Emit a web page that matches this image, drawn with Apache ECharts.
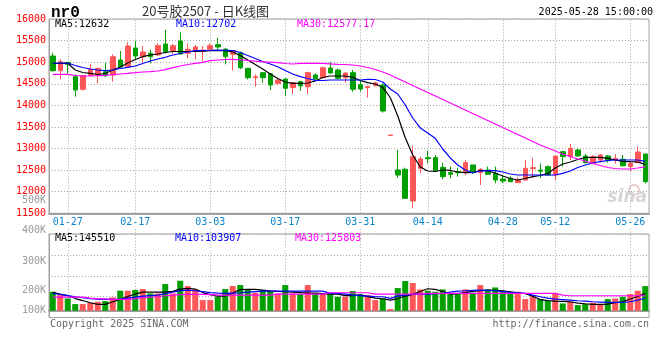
<!DOCTYPE html>
<html><head><meta charset="utf-8">
<script src="https://cdn.jsdelivr.net/npm/echarts@6/dist/echarts.min.js"></script>
<style>html,body{margin:0;padding:0;background:#fff}#c{width:660px;height:360px}</style>
</head><body><div id="c"></div>
<script>
const dates = ['01-23','01-24','01-27','02-05','02-06','02-07','02-10','02-11','02-12','02-13',
'02-14','02-17','02-18','02-19','02-20','02-21','02-24','02-25','02-26','02-27',
'02-28','03-03','03-04','03-05','03-06','03-07','03-10','03-11','03-12','03-13',
'03-14','03-17','03-18','03-19','03-20','03-21','03-24','03-25','03-26','03-27',
'03-28','03-31','04-01','04-02','04-03','04-07','04-08','04-09','04-10','04-11',
'04-14','04-15','04-16','04-17','04-18','04-21','04-22','04-23','04-24','04-25',
'04-28','04-29','04-30','05-06','05-07','05-08','05-09','05-12','05-13','05-14',
'05-15','05-16','05-19','05-20','05-21','05-22','05-23','05-26','05-27','05-28'];
const open = [15143,14803,14995,14664,14372,14696,14726,14780,14703,15050,
14895,15328,15127,15205,15166,15421,15266,15490,15206,15266,
15250,15298,15405,15305,15182,15220,14858,14641,14757,14733,
14510,14610,14410,14548,14432,14703,14641,14865,14819,14641,
14757,14478,14410,14456,14471,13300,12503,12519,11785,12542,
12789,12789,12565,12441,12465,12441,12619,12441,12503,12426,
12294,12310,12210,12271,12534,12503,12580,12387,12927,12811,
12966,12827,12658,12734,12827,12734,12750,12580,12673,12873];
const close = [14803,15011,14950,14356,14687,14835,14858,14687,15127,14895,
15375,15143,15236,15127,15382,15243,15382,15189,15298,15352,
15280,15382,15352,15127,15266,14872,14641,14664,14641,14472,
14587,14395,14525,14449,14757,14610,14872,14749,14626,14749,
14372,14379,14441,14518,13869,13313,12387,11847,12811,12758,
12765,12487,12348,12403,12441,12672,12441,12519,12403,12271,
12248,12233,12271,12542,12557,12473,12387,12827,12811,13006,
12827,12673,12811,12850,12719,12773,12600,12658,12919,12232];
const low = [14780,14610,14733,14200,14340,14670,14511,14660,14548,14880,
14890,15050,14988,14973,15150,15200,15189,15180,15090,15067,
15011,15280,15298,14950,14803,14835,14604,14432,14525,14356,
14472,14217,14263,14333,14263,14600,14630,14740,14600,14525,
14317,14317,14178,14441,13830,13300,12325,11840,11616,12426,
12658,12480,12287,12310,12350,12387,12410,12156,12400,12195,
12195,12220,12200,12260,12310,12318,12380,12271,12580,12734,
12820,12660,12650,12673,12673,12650,12590,12465,12660,12190];
const high = [15220,15067,15000,14719,14703,14958,14870,14988,15182,15259,
15460,15497,15375,15297,15437,15750,15421,15692,15437,15398,
15375,15437,15567,15310,15270,15243,14860,14720,14760,14740,
14633,14620,14548,14571,14780,14742,14900,15011,14850,14765,
14819,14587,14445,14548,14510,13313,12966,12557,13058,12811,
12950,12850,12672,12580,12557,12734,12620,12542,12580,12580,
12387,12356,12333,12734,12789,12650,12610,12830,12930,13105,
13010,12873,12850,12873,12850,12873,12850,12696,13050,12880];
const ma5 = [14974,14974,14974,14819,14761,14742,14715,14738,14819,14888,
14981,15062,15127,15166,15189,15224,15247,15247,15247,15247,
15254,15266,15266,15266,15236,15155,15050,14946,14842,14726,
14622,14541,14511,14511,14518,14564,14645,14680,14680,14680,
14650,14576,14525,14495,14414,14182,13753,13250,12850,12572,
12480,12468,12503,12492,12456,12440,12445,12492,12480,12433,
12364,12306,12271,12306,12348,12375,12422,12549,12642,12688,
12746,12792,12797,12797,12774,12734,12704,12695,12688,12632];
const ma10 = [14969,14981,14981,14923,14877,14842,14819,14803,14819,14854,
14881,14911,14969,15027,15074,15113,15166,15201,15236,15266,
15270,15275,15282,15275,15266,15224,15155,15085,15016,14958,
14895,14807,14726,14664,14622,14580,14576,14587,14587,14587,
14587,14587,14603,14599,14541,14379,14263,14008,13707,13476,
13360,13237,12989,12781,12619,12503,12440,12480,12487,12487,
12456,12410,12387,12387,12387,12387,12387,12387,12426,12480,
12561,12619,12665,12695,12723,12734,12734,12734,12734,12702];
const ma30 = [14719,14719,14719,14691,14680,14680,14687,14696,14710,14726,
14742,14756,14772,14779,14796,14826,14872,14911,14946,14974,
14997,15034,15050,15062,15067,15055,15039,15023,15009,15000,
14988,14969,14958,14974,14974,14974,14974,14962,14951,14946,
14935,14911,14877,14830,14772,14703,14622,14541,14460,14379,
14298,14217,14136,14055,13973,13892,13811,13730,13649,13568,
13487,13406,13325,13244,13163,13082,13012,12943,12873,12815,
12758,12711,12653,12607,12561,12538,12526,12526,12549,12577.17];
const volume = [157700,130300,102100,55600,55600,66400,74700,80500,110400,166000,
166000,171800,180100,143600,143600,221600,143600,249000,205000,176800,
88800,88800,116200,180100,205000,213300,180100,149400,171800,163500,
143600,213300,143600,138600,213300,143600,143600,138600,116200,116200,
163500,138600,130300,88800,102100,14100,188400,246500,229900,176800,
166000,157700,176800,143600,143600,176800,149400,213300,176800,193400,
166000,157700,157700,97100,116200,97100,80500,143600,60600,74700,
47300,55600,66400,55600,97100,102100,116200,138600,166000,205000];
const vma5 = [152700,138600,126200,101300,84700,66400,53100,53100,74700,94600,
117900,138600,155200,155200,155200,155200,161000,180100,185900,180100,
151100,134500,122000,122000,146900,176000,177600,177600,171800,166000,
161000,157700,155200,151100,146900,146900,142800,138600,138600,126200,
126200,130300,117900,105400,99600,88800,101300,122000,136100,159400,
182600,177600,159400,138600,142800,151100,161000,166000,171800,169300,
166000,157700,149400,142800,119500,93000,84700,80500,78000,74700,
63900,58100,53100,53100,55600,66400,74700,97100,117900,145510];
const vma10 = [144400,136100,126200,116200,107900,99600,97100,94600,94600,94600,
105400,113700,122000,126200,130300,142800,155200,167700,171800,166000,
159400,151100,146900,144400,146900,149400,155200,159400,163500,163500,
163500,163500,163500,163500,163500,163500,163500,144400,144400,138600,
130300,126200,122000,117900,116200,102900,122000,130300,136100,138600,
138600,141100,144400,155200,163500,166000,169300,171800,169300,166000,
159400,152700,149400,144400,130300,116200,105400,97100,93000,88800,
83000,80500,74700,72200,69700,69700,69700,74700,88800,103907];
const vma30 = [113700,113700,113700,113700,113700,105400,99600,97900,94600,94600,
94600,101300,109600,113700,116200,124500,130300,134500,136100,136100,
136100,134500,130300,130300,130300,130300,130300,130300,130300,130300,
138600,138600,138600,138600,138600,138600,138600,149400,149400,149400,
149400,149400,149400,138600,138600,138600,138600,138600,138600,138600,
144400,144400,144400,144400,144400,144400,144400,144400,144400,144400,
144400,144400,144400,144400,144400,144400,144400,144400,130300,124500,
124500,124500,124500,124500,124500,124500,124500,124500,124500,125803];
const xLabelDates = ['01-27','02-17','03-03','03-17','03-31','04-14','04-28','05-12','05-26'];
const volTickLabels = ['500K','400K','300K','200K','100K'];
const volTickY = [200.7,230.7,261,290,310];

const RED = '#ff5757', GREEN = '#00a000';
const MONO = 'DejaVu Sans Mono';
const grid0 = {left:49, top:19, width:600, height:194.3};
const grid1 = {left:49, top:234, width:600, height:83.5};
const dotted = {color:'#a8a8a8', type:[1,2], width:1};
const pick = (i, v) => xLabelDates.indexOf(v) >= 0;

const chart = echarts.init(document.getElementById('c'), null, {renderer:'canvas'});
const txt = (text, x, y, fill, font, align, va) => ({type:'text', silent:true, x, y, style:{text, fill, font, align:align||'left', verticalAlign:va||'middle'}});

const graphics = [
  txt('nr0', 51, 13, '#000', 'bold 16px "Liberation Mono"'),
  txt('20号胶2507 - 日K线图', 142, 11, '#333', '13px "Noto Sans CJK SC"'),
  txt('2025-05-28 15:00:00', 653, 12, '#000', '10px "' + MONO + '"', 'right'),
  txt('MA5:12632', 55, 24, '#000', '10px "' + MONO + '"'),
  txt('MA10:12702', 176, 24, '#0000ff', '10px "' + MONO + '"'),
  txt('MA30:12577.17', 297, 24, '#ff00ff', '10px "' + MONO + '"'),
  txt('MA5:145510', 55, 238.5, '#000', '10px "' + MONO + '"'),
  txt('MA10:103907', 175, 238.5, '#0000ff', '10px "' + MONO + '"'),
  txt('MA30:125803', 295, 238.5, '#ff00ff', '10px "' + MONO + '"'),
  txt('Copyright 2025 SINA.COM', 50, 324.5, '#666', '10px "' + MONO + '"'),
  txt('http://finance.sina.com.cn', 649, 324.5, '#666', '10px "' + MONO + '"', 'right'),
  {type:'circle', silent:true, shape:{cx:634, cy:190, r:5}, style:{fill:'none', stroke:'#e6cccc', lineWidth:2}},
  txt('sina', 647, 198, '#d6d6d6', 'italic bold 17px "DejaVu Sans"', 'right')
];
volTickLabels.forEach((t, k) => graphics.push(txt(t, 46, volTickY[k], '#999', '10px "' + MONO + '"', 'right')));

const lineS = (data, color, xi, yi) => ({type:'line', data, xAxisIndex:xi, yAxisIndex:yi, symbol:'none', smooth:false, silent:true,
  lineStyle:{color, width:1.2}, z:5});

chart.setOption({
  animation:false,
  backgroundColor:'#fff',
  grid:[
    Object.assign({show:true, borderColor:'#a0a0a0', borderWidth:1}, grid0),
    Object.assign({show:true, borderColor:'#a0a0a0', borderWidth:1}, grid1)
  ],
  xAxis:[
    {type:'category', gridIndex:0, data:dates, boundaryGap:true,
     axisLine:{lineStyle:{color:'#a0a0a0', width:2}},
     axisTick:{show:true, inside:true, length:194.3, alignWithLabel:true, interval:pick, lineStyle:dotted},
     axisLabel:{interval:pick, color:'#0a84cc', fontFamily:MONO, fontSize:10, margin:4},
     splitLine:{show:false}},
    {type:'category', gridIndex:1, data:dates, boundaryGap:true,
     axisLine:{lineStyle:{color:'#a0a0a0', width:2}},
     axisTick:{show:true, inside:true, length:83.5, alignWithLabel:true, interval:pick, lineStyle:dotted},
     axisLabel:{show:false}, splitLine:{show:false}}
  ],
  yAxis:[
    {type:'value', gridIndex:0, min:11500, max:16000, interval:500, scale:true,
     axisLine:{show:true, lineStyle:{color:'#a0a0a0'}}, axisTick:{show:false},
     axisLabel:{color:'#ff0000', fontFamily:MONO, fontSize:10, margin:3, padding:[0,0,4,0], formatter:(v) => String(v)},
     splitLine:{show:true, lineStyle:dotted}},
    {type:'value', gridIndex:1, min:-56000, max:637000,
     axisLine:{show:true, lineStyle:{color:'#a0a0a0'}}, axisTick:{show:false},
     axisLabel:{show:false}, splitLine:{show:false}},
    {type:'value', gridIndex:1, min:0, max:4, interval:1, position:'left',
     axisLine:{show:false}, axisTick:{show:false}, axisLabel:{show:false},
     splitLine:{show:true, lineStyle:dotted}}
  ],
  graphic: graphics,
  series:[
    {type:'candlestick', xAxisIndex:0, yAxisIndex:0, silent:true, barWidth:5,
     data: dates.map((d, i) => [open[i], close[i], low[i], high[i]]),
     itemStyle:{color:RED, color0:GREEN, borderColor:RED, borderColor0:GREEN, borderColorDoji:RED, borderWidth:1}, z:3},
    lineS(ma5, '#000000', 0, 0),
    lineS(ma10, '#0000ff', 0, 0),
    lineS(ma30, '#ff00ff', 0, 0),
    {type:'bar', xAxisIndex:1, yAxisIndex:1, silent:true, barWidth:6, data:volume,
     itemStyle:{color:(p) => close[p.dataIndex] >= open[p.dataIndex] ? RED : GREEN}, z:3},
    lineS(vma5, '#000000', 1, 1),
    lineS(vma10, '#0000ff', 1, 1),
    lineS(vma30, '#ff00ff', 1, 1)
  ]
});
</script></body></html>
